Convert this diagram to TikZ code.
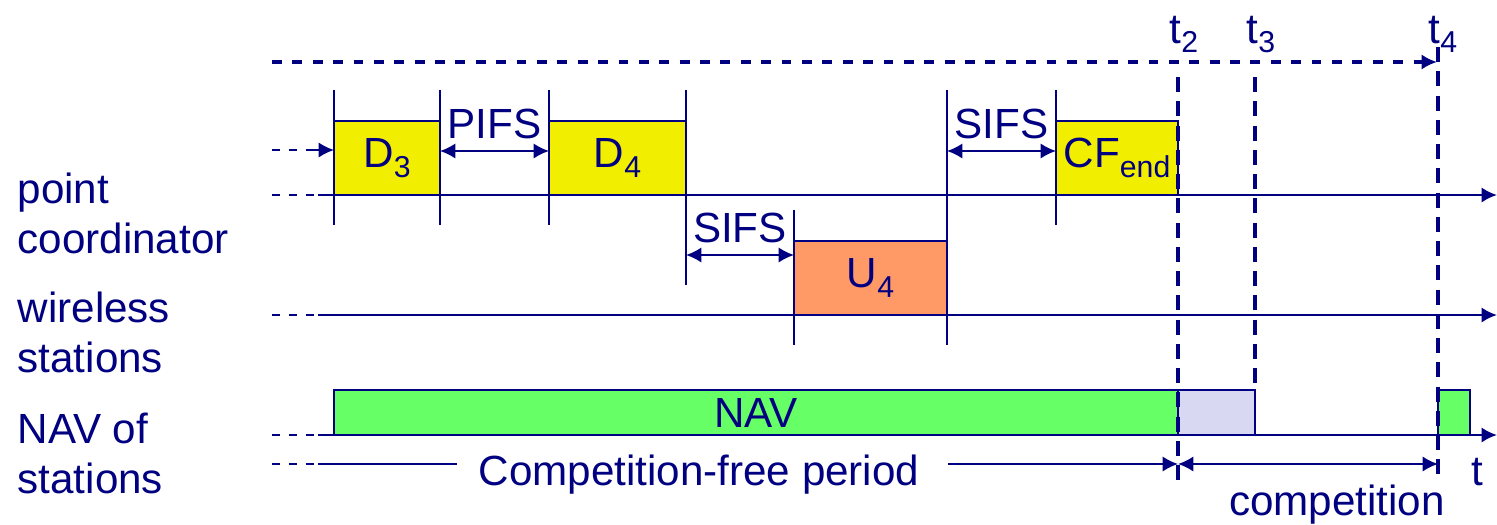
\documentclass[tikz,border=0pt]{standalone}
\usepackage{fontspec}
\setmainfont{Liberation Sans}
\usepackage{xcolor}
\usepackage{tikz}
\usetikzlibrary{arrows.meta}
\usetikzlibrary{positioning}
\definecolor{navyblue}{RGB}{0,0,128}
\definecolor{slotyellow}{RGB}{242,238,0}
\definecolor{slotorange}{RGB}{255,153,102}
\definecolor{navgreen}{RGB}{102,255,102}
\definecolor{lightlavender}{RGB}{216,216,242}
\newcommand{\lowidx}[1]{\raisebox{-0.22em}{\fontsize{8.6}{9}\selectfont #1}}

\begin{document}
\begin{tikzpicture}[navyblue, >={Latex[length=4.4pt,width=4.4pt]},
        font=\fontsize{12}{14.2}\selectfont,
        slot/.style={draw=navyblue, line width=0.6pt, anchor=south west, inner sep=0pt, outer sep=0pt},
        axisline/.style={line width=0.75pt, ->},
        lead/.style={line width=0.6pt, dash pattern=on 2.3pt off 2.5pt},
        tick/.style={line width=0.45pt},
        marker/.style={line width=1.3pt, dash pattern=on 4.3pt off 2.6pt},
        gap/.style={line width=0.6pt, <->}]
            \useasboundingbox (0,0) rectangle (14.97,-5.25);
            % row labels
            \node[anchor=base west, align=left, inner sep=0pt] (pclabel) at (0.17,-2.53) {point\\coordinator};
            \node[anchor=base west, align=left, inner sep=0pt] (wslabel) at (0.17,-3.72) {wireless\\stations};
            \node[anchor=base west, align=left, inner sep=0pt] (navlabel) at (0.17,-4.93) {NAV of\\stations};
            % slot borders
            \foreach \x in {3.34,4.40,5.49,10.56} \draw[tick] (\x,-0.90) -- (\x,-2.25);
            \draw[tick] (6.86,-0.90) -- (6.86,-2.85);
            \draw[tick] (9.47,-0.90) -- (9.47,-3.45);
            \draw[tick] (7.94,-2.10) -- (7.94,-3.45);
            % frames
            \node[slot, fill=slotyellow, minimum width=1.06cm, minimum height=0.74cm] (d3) at (3.34,-1.95) {D\lowidx{3}};
            \node[slot, fill=slotyellow, minimum width=1.37cm, minimum height=0.74cm] (d4) at (5.49,-1.95) {D\lowidx{4}};
            \node[slot, fill=slotyellow, minimum width=1.22cm, minimum height=0.74cm] (cfend) at (10.56,-1.95) {CF\lowidx{end}};
            \node[slot, fill=slotorange, minimum width=1.53cm, minimum height=0.74cm] (u4) at (7.94,-3.15) {U\lowidx{4}};
            \node[slot, fill=navgreen, minimum width=8.44cm, minimum height=0.45cm] (nav) at (3.34,-4.35) {NAV};
            \node[slot, fill=lightlavender, minimum width=0.77cm, minimum height=0.45cm] (navidle) at (11.78,-4.35) {};
            \node[slot, fill=navgreen, minimum width=0.32cm, minimum height=0.45cm] (navnext) at (14.38,-4.35) {};
            % inter frame spaces
            \draw[gap] (4.40,-1.51) -- (5.49,-1.51) node[midway, above, inner sep=3pt] (pifs) {PIFS};
            \draw[gap] (9.47,-1.51) -- (10.56,-1.51) node[midway, above, inner sep=3pt] (sifsa) {SIFS};
            \draw[gap] (6.86,-2.55) -- (7.94,-2.55) node[midway, above, inner sep=3pt] (sifsb) {SIFS};
            % time axes
            \draw[lead] (2.72,-1.50) -- (3.10,-1.50);
            \draw[->, line width=0.6pt] (3.10,-1.50) -- (3.34,-1.50);
            \foreach \y in {1.95,3.15,4.35} {
                \draw[lead] (2.72,-\y) -- (3.18,-\y);
                \draw[axisline] (3.18,-\y) -- (14.97,-\y);
            }
            % time marks
            \draw[line width=0.95pt, dash pattern=on 2.8pt off 3pt, ->] (2.72,-0.62) -- (14.37,-0.62);
            \draw[marker] (11.78,-0.77) -- (11.78,-4.80);
            \draw[marker] (12.55,-0.77) -- (12.55,-3.90);
            \draw[marker] (14.38,-0.47) -- (14.38,-4.80);
            \node[anchor=base west, inner sep=0pt] (t2) at (11.69,-0.43) {t\lowidx{2}};
            \node[anchor=base west, inner sep=0pt] (t3) at (12.46,-0.43) {t\lowidx{3}};
            \node[anchor=base west, inner sep=0pt] (t4) at (14.28,-0.43) {t\lowidx{4}};
            % periods
            \draw[lead] (2.72,-4.64) -- (3.18,-4.64);
            \draw[line width=0.6pt] (3.18,-4.64) -- (4.57,-4.64);
            \node[anchor=base] (cfp) at (6.99,-4.85) {Competition-free period};
            \draw[->, line width=0.6pt] (9.48,-4.64) -- (11.78,-4.64);
            \draw[<->, line width=0.6pt] (11.78,-4.64) -- (14.38,-4.64);
            \node[anchor=base] (comp) at (13.37,-5.15) {competition};
            \node[anchor=base west, inner sep=0pt] (tlabel) at (14.71,-4.85) {t};
        \end{tikzpicture}
\end{document}
